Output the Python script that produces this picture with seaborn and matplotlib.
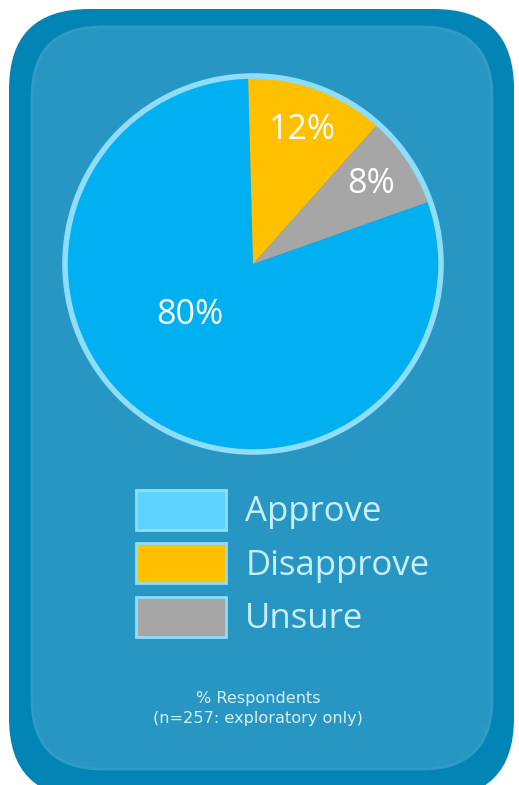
import matplotlib
matplotlib.use("Agg")
import matplotlib.pyplot as plt
import seaborn as sns
from matplotlib.patches import FancyBboxPatch, Patch

categories = ["Approve", "Disapprove", "Unsure"]
values = [80, 12, 8]
labels = ["80%", "12%", "8%"]
pie_colors = ["#00B0F0", "#FFC000", "#A6A6A6"]
legend_colors = ["#5CD4FF", "#FFC000", "#A6A6A6"]
note_lines = ["% Respondents", "(n=257: exploratory only)"]

sns.set_theme(style="white")
plt.rcParams["font.family"] = ["Open Sans", "DejaVu Sans"]

W, H = 519, 785
fig = plt.figure(figsize=(W / 100, H / 100), dpi=100)
fig.patch.set_facecolor("white")

def px_box(x0, y0, x1, y1, r, color, ec="none", lw=0):
    fig.patches.append(FancyBboxPatch(
        (x0 / W, 1 - y1 / H), (x1 - x0) / W, (y1 - y0) / H,
        boxstyle=f"round,pad=0,rounding_size={r / W}",
        mutation_aspect=W / H,
        transform=fig.transFigure, facecolor=color, edgecolor=ec,
        linewidth=lw, zorder=-5))

px_box(9, 9, 514, 798, 80, "#0285B4")
px_box(32, 27, 492, 769, 70, "#2896C3", ec="#2F9BC7", lw=2)

# pie axes
cx, cy, r = 253, 264, 188
ax = fig.add_axes([(cx - r) / W, 1 - (cy + r) / H, 2 * r / W, 2 * r / H], zorder=2)
ax.set_facecolor("none")
plot_order = [0, 2, 1]  # counter-clockwise from top
wedges, _, autotexts = ax.pie(
    [values[i] for i in plot_order],
    colors=[pie_colors[i] for i in plot_order],
    labels=None,
    autopct=lambda p: "",
    startangle=91.5, counterclock=True,
    pctdistance=0.76,
    wedgeprops=dict(edgecolor="none", linewidth=0),
)
for t, i in zip(autotexts, plot_order):
    t.set_text(labels[i])
    t.set_color("white")
    t.set_fontsize(24.5)
    t.set_ha("center")
    t.set_va("center")
# move big label closer to center (as in reference)
autotexts[0].set_position((-0.335, -0.27))
ax.pie([1], colors=["none"], startangle=90,
       wedgeprops=dict(edgecolor="#8EDDFB", linewidth=4, facecolor="none"))
ax.set_xlim(-1.0, 1.0)
ax.set_ylim(-1.0, 1.0)
ax.set_aspect("equal")
ax.axis("off")

# legend
handles = [Patch(facecolor=c, edgecolor="#8EDDFB", linewidth=2) for c in legend_colors]
leg = fig.legend(handles, categories, loc="upper left",
                 bbox_to_anchor=(129 / W, 1 - 483 / H),
                 frameon=False, fontsize=25, labelcolor="#C9EEFF",
                 handlelength=2.6, handleheight=1.38, handletextpad=0.55,
                 labelspacing=0.4, borderaxespad=0, borderpad=0.2)

for txt, y in zip(note_lines, [699, 718]):
    fig.text(258 / W, 1 - y / H, txt, ha="center", va="center",
             fontsize=11.6, color="#D3EEF8", family=["DejaVu Sans"])

fig.savefig("out.png", dpi=100, facecolor="white")
